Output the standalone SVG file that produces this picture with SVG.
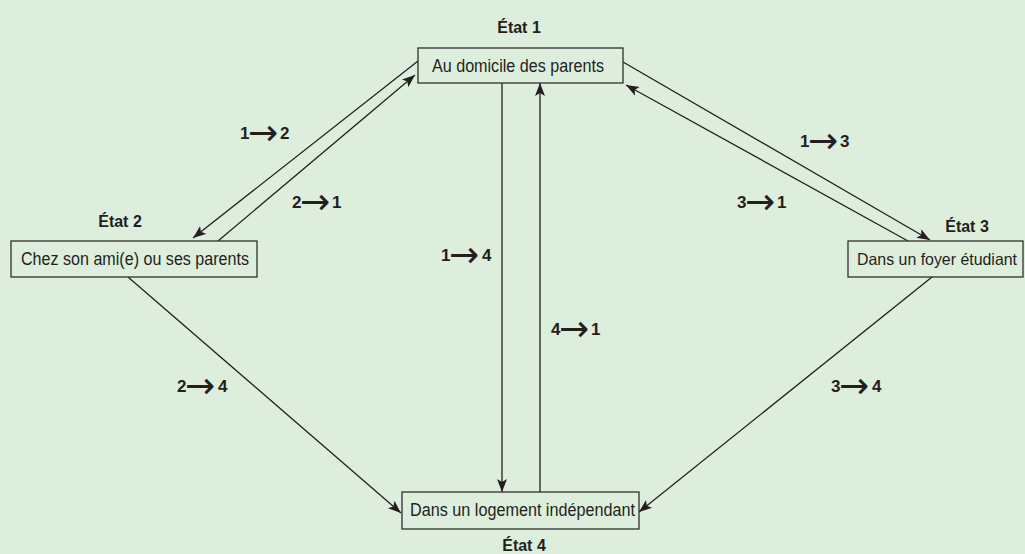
<svg xmlns="http://www.w3.org/2000/svg" width="1025" height="554" viewBox="0 0 1025 554">
<style>
.bg{fill:#deeedc}
.box{fill:#deeedc;stroke:#2e2e2e;stroke-width:1.3}
.lbl{font-family:"Liberation Sans Narrow","Liberation Sans",Arial,sans-serif;font-size:17.5px;fill:#231f20}
.st{font-family:"Liberation Sans Narrow","Liberation Sans",Arial,sans-serif;font-size:16px;font-weight:bold;fill:#231f20;text-anchor:middle}
.tr{font-family:"Liberation Sans Narrow","Liberation Sans",Arial,sans-serif;font-size:17px;font-weight:bold;fill:#231f20}
.ar{font-family:"DejaVu Sans",sans-serif;font-size:36px;font-weight:normal}
.cn{stroke:#231f20;stroke-width:1.3;fill:none;marker-end:url(#ah)}
</style>
<defs>
<marker id="ah" markerUnits="userSpaceOnUse" markerWidth="14" markerHeight="12" refX="13" refY="5" orient="auto">
<path d="M0,0 L13,5 L0,10 L3,5 z" fill="#231f20"/>
</marker>
</defs>
<rect class="bg" x="0" y="0" width="1025" height="554"/>
<g id="connectors">
<line class="cn" x1="418" y1="61" x2="193" y2="238"/>
<line class="cn" x1="218" y1="241" x2="415" y2="75"/>
<line class="cn" x1="623" y1="62" x2="930" y2="240"/>
<line class="cn" x1="908" y1="241" x2="626" y2="85"/>
<line class="cn" x1="502" y1="83" x2="502" y2="492"/>
<line class="cn" x1="540" y1="492" x2="540" y2="83"/>
<line class="cn" x1="128" y1="277" x2="401" y2="513"/>
<line class="cn" x1="932" y1="277" x2="639" y2="512"/>
</g>
<g id="transition-labels">
<text class="tr" x="240" y="139">1<tspan class="ar" x="248" dy="6">→</tspan><tspan x="280" dy="-6">2</tspan></text>
<text class="tr" x="292" y="208">2<tspan class="ar" x="300" dy="6">→</tspan><tspan x="332" dy="-6">1</tspan></text>
<text class="tr" x="800" y="147">1<tspan class="ar" x="808" dy="6">→</tspan><tspan x="840" dy="-6">3</tspan></text>
<text class="tr" x="737" y="208">3<tspan class="ar" x="745" dy="6">→</tspan><tspan x="777" dy="-6">1</tspan></text>
<text class="tr" x="441" y="261">1<tspan class="ar" x="449" dy="6">→</tspan><tspan x="482" dy="-6">4</tspan></text>
<text class="tr" x="551" y="335">4<tspan class="ar" x="559" dy="6">→</tspan><tspan x="591" dy="-6">1</tspan></text>
<text class="tr" x="177" y="392">2<tspan class="ar" x="185" dy="6">→</tspan><tspan x="218" dy="-6">4</tspan></text>
<text class="tr" x="831" y="392">3<tspan class="ar" x="839" dy="6">→</tspan><tspan x="872" dy="-6">4</tspan></text>
</g>
<g id="etat1">
<text class="st" x="519" y="33">État 1</text>
<rect class="box" x="418" y="48" width="205" height="35"/>
<text class="lbl" x="432" y="72" textLength="172" lengthAdjust="spacingAndGlyphs">Au domicile des parents</text>
</g>
<g id="etat2">
<text class="st" x="120" y="227">État 2</text>
<rect class="box" x="11" y="241" width="246" height="36"/>
<text class="lbl" x="21" y="265" textLength="228" lengthAdjust="spacingAndGlyphs">Chez son ami(e) ou ses parents</text>
</g>
<g id="etat3">
<text class="st" x="967" y="232">État 3</text>
<rect class="box" x="848" y="241" width="175" height="36"/>
<text class="lbl" x="857" y="265" style="font-size:16.5px" textLength="160" lengthAdjust="spacingAndGlyphs">Dans un foyer étudiant</text>
</g>
<g id="etat4">
<rect class="box" x="402" y="492" width="237" height="37"/>
<text class="lbl" x="410" y="516" textLength="225" lengthAdjust="spacingAndGlyphs">Dans un logement indépendant</text>
<text class="st" x="524" y="551">État 4</text>
</g>
</svg>
